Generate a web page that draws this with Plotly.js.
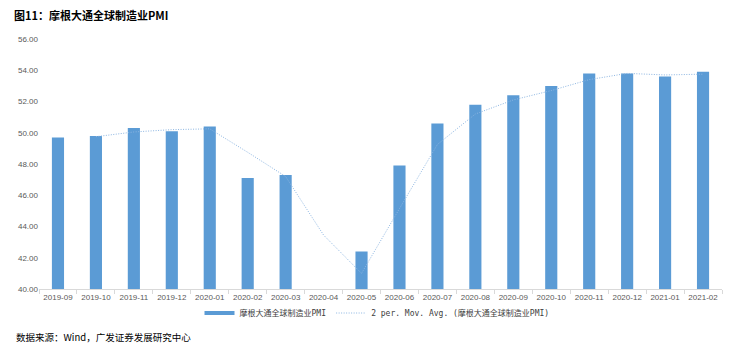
<!DOCTYPE html>
<html>
<head>
<meta charset="utf-8">
<script src="https://cdn.plot.ly/plotly-3.0.1.min.js"></script>
<style>
html,body{margin:0;padding:0;background:#fff;}
#chart{width:732px;height:351px;}
</style>
</head>
<body>
<div id="chart"></div>
<script>
const categories = ["2019-09","2019-10","2019-11","2019-12","2020-01","2020-02","2020-03","2020-04","2020-05","2020-06","2020-07","2020-08","2020-09","2020-10","2020-11","2020-12","2021-01","2021-02"];
const pmiValues = [49.7,49.8,50.3,50.1,50.4,47.1,47.3,39.6,42.4,47.9,50.6,51.8,52.4,53.0,53.8,53.8,53.6,53.9];
const movAvgValues = [null,49.75,50.05,50.2,50.25,48.75,47.2,43.45,41.0,45.15,49.25,51.2,52.1,52.7,53.4,53.8,53.7,53.75];
const yTicks = [40,42,44,46,48,50,52,54,56];
const yTickLabels = ["40.00","42.00","44.00","46.00","48.00","50.00","52.00","54.00","56.00"];
const barName = "摩根大通全球制造业PMI";
const avgName = "2 per. Mov. Avg. (摩根大通全球制造业PMI)";
const barColor = "#5B9BD5";

const traces = [
  {
    type: "bar",
    x: categories,
    y: pmiValues,
    name: barName,
    marker: {color: barColor},
    showlegend: false,
    legendgroup: "pmi",
    hoverinfo: "skip"
  },
  {
    // legend entry only: wide flat swatch like the reference
    type: "scatter",
    mode: "lines",
    x: [null],
    y: [null],
    name: barName,
    legendgroup: "pmi",
    line: {color: barColor, width: 4},
    hoverinfo: "skip"
  },
  {
    type: "scatter",
    mode: "lines",
    x: categories,
    y: movAvgValues,
    name: avgName,
    line: {color: "#8DB6E2", width: 1, dash: "1px,1.5px"},
    connectgaps: false,
    hoverinfo: "skip"
  }
];

const layout = {
  width: 732,
  height: 351,
  paper_bgcolor: "#ffffff",
  plot_bgcolor: "#ffffff",
  margin: {l: 39, r: 10, t: 39, b: 62},
  bargap: 0.68,
  showlegend: true,
  legend: {
    orientation: "h",
    x: 0.235,
    xanchor: "left",
    y: -0.096,
    yanchor: "middle",
    font: {family: "'DejaVu Sans Mono', 'Noto Sans CJK SC', monospace", size: 8, color: "#404040"},
    itemwidth: 30,
    tracegroupgap: 0,
    bgcolor: "rgba(0,0,0,0)"
  },
  xaxis: {
    type: "category",
    tickfont: {family: "'Liberation Sans', Arial, sans-serif", size: 8, color: "#595959"},
    showline: true,
    linecolor: "#D9D9D9",
    linewidth: 1,
    ticks: "outside",
    tickson: "boundaries",
    ticklen: 4,
    tickcolor: "#D9D9D9",
    showgrid: false,
    zeroline: false,
    tickangle: 0,
    fixedrange: true
  },
  yaxis: {
    range: [40, 56],
    tickvals: yTicks,
    ticktext: yTickLabels,
    tickfont: {family: "'Liberation Sans', Arial, sans-serif", size: 8, color: "#595959"},
    showline: false,
    showgrid: false,
    zeroline: false,
    ticks: "",
    fixedrange: true
  },
  annotations: [
    {
      text: "<b>图11：摩根大通全球制造业PMI</b>",
      xref: "paper", yref: "paper",
      x: -39/683, y: 1 + 24/250,
      xanchor: "left", yanchor: "middle",
      xshift: 12,
      showarrow: false,
      font: {family: "'Noto Sans CJK SC', sans-serif", size: 11, color: "#000000"}
    },
    {
      text: "数据来源：Wind，广发证券发展研究中心",
      xref: "paper", yref: "paper",
      x: -39/683, y: -48/250,
      xanchor: "left", yanchor: "middle",
      xshift: 14,
      showarrow: false,
      font: {family: "'Noto Sans CJK SC', sans-serif", size: 9.5, color: "#000000"}
    }
  ]
};

Plotly.newPlot("chart", traces, layout, {displayModeBar: false, staticPlot: true});
</script>
</body>
</html>
